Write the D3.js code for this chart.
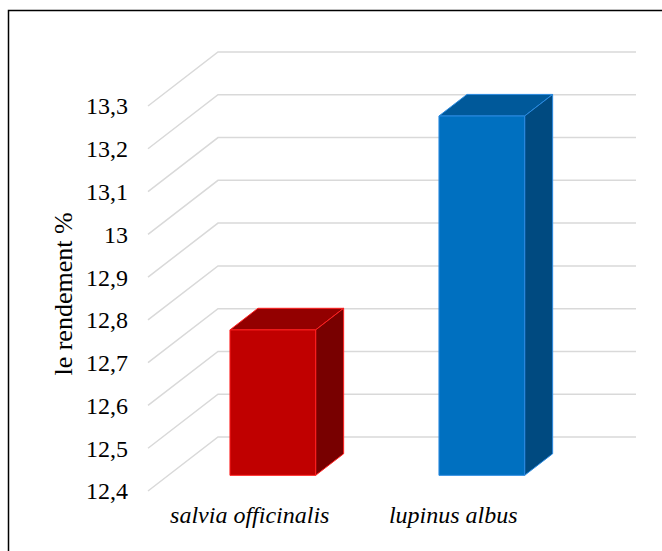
<!DOCTYPE html>
<html>
<head>
<meta charset="utf-8">
<script src="https://cdn.jsdelivr.net/npm/d3@7"></script>
<style>
  html, body { margin: 0; padding: 0; background: #fff; }
  svg { display: block; }
</style>
</head>
<body>
<script>
// Yield per species
const categories = ["salvia officinalis", "lupinus albus"];
const values = [12.74, 13.24];
const tickValues = [12.4, 12.5, 12.6, 12.7, 12.8, 12.9, 13.0, 13.1, 13.2, 13.3];
const tickLabels = ["12,4", "12,5", "12,6", "12,7", "12,8", "12,9", "13", "13,1", "13,2", "13,3"];
const faceColors = ["#c00000", "#0070c0"];
const topColors = ["#930000", "#00599a"];
const sideColors = ["#780000", "#004a80"];
const edgeColors = ["#ff2020", "#2a8ae0"];

const FONT = "'Liberation Serif', Tinos, 'Times New Roman', 'DejaVu Serif', serif";
const W = 662, H = 551;
const svg = d3.select("body").append("svg").attr("width", W).attr("height", H)
  .style("font-family", FONT);

// chart frame
svg.append("rect").attr("x", 8.5).attr("y", 10.5).attr("width", 700).attr("height", 600)
  .attr("fill", "#fff").attr("stroke", "#000").attr("stroke-width", 1.5);

// front-plane scales; depth offsets project toward the back wall
const x = d3.scaleBand().domain(categories).range([148, 566]).padding(0);
const xLabel = d3.scaleBand().domain(categories).range([148, 555]).padding(0);
const y = d3.scaleLinear().domain([12.4, 13.3]).range([491, 106]);
const DX = 70, DY = 54;
const proj = (px, v, f) => [px + f * DX, y(v) - f * DY];
const base = 12.4;

// gridlines: side wall diagonals + back wall
const grid = svg.append("g");
tickValues.forEach(t => {
  const a = proj(x.range()[0], t, 0), b = proj(x.range()[0], t, 1), c = proj(x.range()[1], t, 1);
  grid.append("polyline")
    .attr("points", [a, b, c].map(p => p.join(",")).join(" "))
    .attr("fill", "none").attr("stroke", "#d9d9d9").attr("stroke-width", 1.5);
});

// value axis labels
svg.append("g").selectAll("text").data(tickValues).join("text")
  .attr("x", 128).attr("y", d => y(d)).attr("dy", "0.35em")
  .attr("text-anchor", "end").attr("font-size", 24).attr("font-family", FONT)
  .text((d, i) => tickLabels[i]);

// axis title
svg.append("text")
  .attr("transform", "translate(72,294) rotate(-90)")
  .attr("text-anchor", "middle").attr("font-size", 26).attr("font-family", FONT)
  .text("le rendement %");

// 3D columns
const f0 = 0.29, f1 = 0.69;
const bars = svg.append("g");
categories.forEach((cat, i) => {
  const bw = x.bandwidth() * 0.41;
  const bx = x(cat) + (x.bandwidth() - bw) / 2;
  const v = values[i];
  const pts = ps => ps.map(p => p.join(",")).join(" ");
  const g = bars.append("g").attr("stroke", edgeColors[i]).attr("stroke-width", 1).attr("stroke-linejoin", "round");
  // top face
  g.append("polygon").attr("fill", topColors[i])
    .attr("points", pts([proj(bx, v, f0), proj(bx + bw, v, f0), proj(bx + bw, v, f1), proj(bx, v, f1)]));
  // side face
  g.append("polygon").attr("fill", sideColors[i])
    .attr("points", pts([proj(bx + bw, v, f0), proj(bx + bw, v, f1), proj(bx + bw, base, f1), proj(bx + bw, base, f0)]));
  // front face
  g.append("polygon").attr("fill", faceColors[i])
    .attr("points", pts([proj(bx, v, f0), proj(bx + bw, v, f0), proj(bx + bw, base, f0), proj(bx, base, f0)]));
});

// category labels
svg.append("g").selectAll("text").data(categories).join("text")
  .attr("x", d => xLabel(d) + xLabel.bandwidth() / 2).attr("y", 523)
  .attr("text-anchor", "middle").attr("font-size", 24).attr("font-style", "italic")
  .attr("font-family", FONT)
  .text(d => d);
</script>
</body>
</html>
